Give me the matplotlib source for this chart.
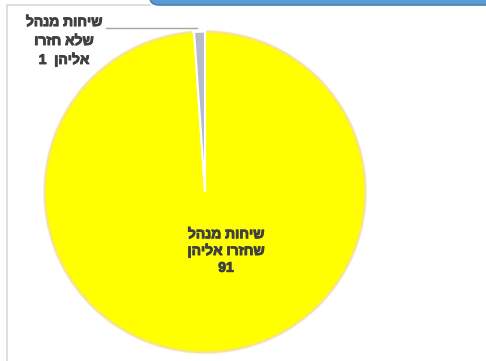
import matplotlib.pyplot as plt
import matplotlib.patheffects as pe
from matplotlib.patches import Arc, FancyBboxPatch
from matplotlib.lines import Line2D

plt.rcParams['font.family'] = ['Liberation Sans', 'DejaVu Sans']

# calls answered vs. not answered
values = [91, 1]
colors = ['#FFFF00', '#B7BAC8']
label_answered = ['שיחות מנהל', 'שחזרו אליהן']
label_missed = ['שיחות מנהל', 'שלא חזרו', 'אליהן']

W, H = 486, 361


def heb(s):
    # matplotlib has no bidi support, so hebrew lines are laid out reversed
    return s[::-1]


def fx(px):
    return px / W


def fy(py):
    return 1 - py / H


fig = plt.figure(figsize=(W / 100, H / 100), dpi=100)
fig.patch.set_facecolor('white')

# frame of the chart area and the blue header band
fig.add_artist(Line2D([fx(7), fx(7)], [fy(5), 0], color='#D9D9D9', lw=1.2))
fig.add_artist(Line2D([fx(7), fx(150)], [fy(5), fy(5)], color='#D9D9D9', lw=1.2))
fig.add_artist(FancyBboxPatch((fx(150), fy(5)), fx(400), 0.1,
                              boxstyle='round,pad=0,rounding_size=0.02',
                              transform=fig.transFigure, fc='#5B9BD5',
                              ec='#4A7FB5', lw=1.2, zorder=1))

ax = fig.add_axes([fx(43), fy(354), fx(324), 324 / H])
wedges, _ = ax.pie(values, colors=colors, startangle=90, counterclock=False,
                   wedgeprops=dict(edgecolor='white', linewidth=1.5))
total = sum(values)
gap = 360 * values[1] / total
# soft darker rim around the yellow slice
for w_, a_ in [(2.5, 0.15), (1.2, 0.3)]:
    ax.add_patch(Arc((0, 0), 2, 2, theta1=90 + gap + 0.8, theta2=450 - 0.4,
                     color='#E6B800', lw=w_, alpha=a_))
ax.set_xlim(-1.01, 1.01)
ax.set_ylim(-1.01, 1.01)
ax.set_aspect('equal')
ax.axis('off')

bold = [pe.withStroke(linewidth=0.7, foreground='#404040')]
txt = dict(fontsize=10, fontweight='bold', color='#404040', ha='center',
           va='center', path_effects=bold)

lines_in = [heb(label_answered[0]), heb(label_answered[1]), str(values[0])]
fig.text(fx(226), fy(251), '\n'.join(lines_in), linespacing=1.25, **txt)

lines_out = [heb(label_missed[0]), heb(label_missed[1]),
             str(values[1]) + '  ' + heb(label_missed[2])]
fig.text(fx(64), fy(41), '\n'.join(lines_out), linespacing=1.45, **txt)

# leader line to the small slice
fig.add_artist(Line2D([fx(106), fx(197)], [fy(28), fy(28)], color='#A6A6A6', lw=1))

fig.savefig('out.png', dpi=100)
